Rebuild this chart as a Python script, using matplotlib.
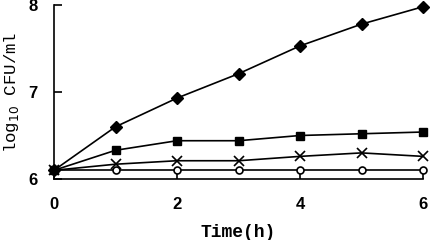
import matplotlib
matplotlib.use("Agg")
import matplotlib.pyplot as plt

hours = [0, 1, 2, 3, 4, 5, 6]
diamond = [6.1, 6.6, 6.93, 7.21, 7.53, 7.78, 7.98]
square = [6.1, 6.33, 6.44, 6.44, 6.5, 6.52, 6.54]
cross = [6.1, 6.17, 6.21, 6.21, 6.26, 6.3, 6.26]
circle = [6.1, 6.1, 6.1, 6.1, 6.1, 6.1, 6.1]

fig = plt.figure(figsize=(4.3, 2.4), dpi=100)
ax = fig.add_axes([54 / 430, 61 / 240, 369 / 430, 174 / 240])

kw = dict(color="black", lw=1.2, clip_on=False)
ax.plot(hours, circle, marker="o", ms=5, mfc="white", mew=1.2, **kw)
ax.plot(hours, cross, marker="x", ms=7, mew=1.2, **kw)
ax.plot(hours, square, marker="s", ms=6, **kw)
ax.plot(hours, diamond, marker="D", ms=6, **kw)

ax.set_xlim(0, 6)
ax.set_ylim(6, 8)
tick_font = dict(family="Liberation Sans", weight="bold", size=12)
ax.set_xticks([0, 2, 4, 6])
ax.set_xticklabels(["0", "2", "4", "6"], fontdict=tick_font)
ax.set_yticks([6, 7, 8])
ax.set_yticklabels(["6", "7", "8"], fontdict=tick_font)
ax.spines["top"].set_visible(False)
ax.spines["right"].set_visible(False)
for s in ("left", "bottom"):
    ax.spines[s].set_linewidth(1.2)
ax.tick_params(direction="in", length=6, width=1.2)
ax.tick_params(axis="x", pad=13)
ax.tick_params(axis="y", pad=12)

ax.set_xlabel("Time(h)", family="Liberation Mono", fontweight="bold", fontsize=13)
ax.set_ylabel("log$_{10}$ CFU/ml", family="Liberation Mono", fontsize=12.5)
ax.xaxis.set_label_coords(0.5, -0.26)
ax.yaxis.set_label_coords(-0.114, 0.5)
ax.yaxis.label.set_va("center")

fig.savefig("out.png", dpi=100)
